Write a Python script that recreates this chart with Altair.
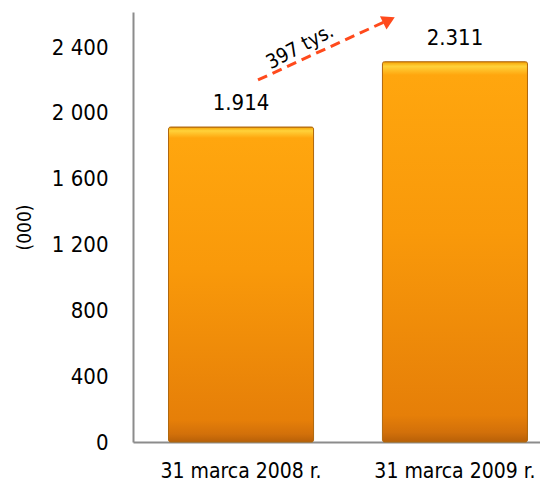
import altair as alt
import pandas as pd

categories = ["31 marca 2008 r.", "31 marca 2009 r."]
values = [1914, 2311]
value_labels = ["1.914", "2.311"]
y_ticks = [0, 400, 800, 1200, 1600, 2000, 2400]
y_max = 2613
growth_label = ["397 tys."]
arrow_from = [2200]
arrow_to = [2552]
arrow_tip = [2564]
growth_label_y = [2400]

FONT = "DejaVu Sans Condensed"

df = pd.DataFrame({"cat": categories, "value": values, "label": value_labels})

yscale = alt.Scale(domain=[0, y_max], nice=False)

x_enc = alt.X(
    "cat:N", sort=categories,
    scale=alt.Scale(range=[0, 430], paddingInner=0.322, paddingOuter=0.166),
    axis=alt.Axis(title=None, labelAngle=0, ticks=False, domainColor="#8c8c8c",
                  domainWidth=2, labelPadding=18, labelFontSize=21, labelFont=FONT,
                  labelColor="#000000"),
)
y_enc = alt.Y(
    "value:Q", scale=yscale,
    axis=alt.Axis(values=y_ticks, grid=False, ticks=False, domainColor="#8c8c8c",
                  domainWidth=2, labelPadding=25, labelFontSize=22, labelFont=FONT,
                  labelColor="#000000",
                  labelExpr="replace(format(datum.value, ','), ',', ' ')",
                  title="(000)", titleFontSize=19, titleFontWeight="normal",
                  titleFont=FONT, titleColor="#000000", titleAngle=270,
                  titleX=-109, titleY=215, titleAlign="center", titleBaseline="middle"),
)

grad = alt.Gradient(
    gradient="linear",
    stops=[
        alt.GradientStop(color="#F5A000", offset=0),
        alt.GradientStop(color="#FFD23A", offset=0.012),
        alt.GradientStop(color="#FFA60E", offset=0.035),
        alt.GradientStop(color="#F9990A", offset=0.45),
        alt.GradientStop(color="#E67F08", offset=0.93),
        alt.GradientStop(color="#D2700A", offset=0.975),
        alt.GradientStop(color="#B86008", offset=1),
    ],
    x1=0, x2=0, y1=0, y2=1,
)

bars = alt.Chart(df).mark_bar(fill=grad, stroke="#B0680E", strokeWidth=1, cornerRadius=2).encode(
    x=x_enc, y=y_enc
)

labels = alt.Chart(df).mark_text(dy=-17, baseline="alphabetic", fontSize=22, font=FONT,
                                 color="#000000").encode(
    x=alt.X("cat:N", sort=categories), y=alt.Y("value:Q"), text="label:N"
)

arrow_df = pd.DataFrame({"y": arrow_from, "y2": arrow_to})
arrow = alt.Chart(arrow_df).mark_rule(color="#FF4A1C", strokeWidth=3, strokeDash=[10, 6]).encode(
    x=alt.value(125), x2=alt.value(251), y=alt.Y("y:Q"), y2="y2:Q"
)

tip_df = pd.DataFrame({"y": arrow_tip})
tip = alt.Chart(tip_df).mark_point(shape="triangle-up", filled=True, size=220, angle=64,
                                   color="#FF4A1C", opacity=1).encode(
    x=alt.value(256), y=alt.Y("y:Q")
)

gl_df = pd.DataFrame({"y": growth_label_y, "t": growth_label})
growth = alt.Chart(gl_df).mark_text(angle=332, fontSize=20, font=FONT, color="#000000").encode(
    x=alt.value(167), y=alt.Y("y:Q"), text="t:N"
)

chart = alt.layer(bars, labels, arrow, tip, growth).properties(
    width=407, height=430,
    padding={"left": 125, "top": 4, "right": 0, "bottom": 39},
    autosize="none", background="white",
).configure_view(stroke=None)

chart.save("out.html", embed_options={"renderer": "svg", "actions": False})
